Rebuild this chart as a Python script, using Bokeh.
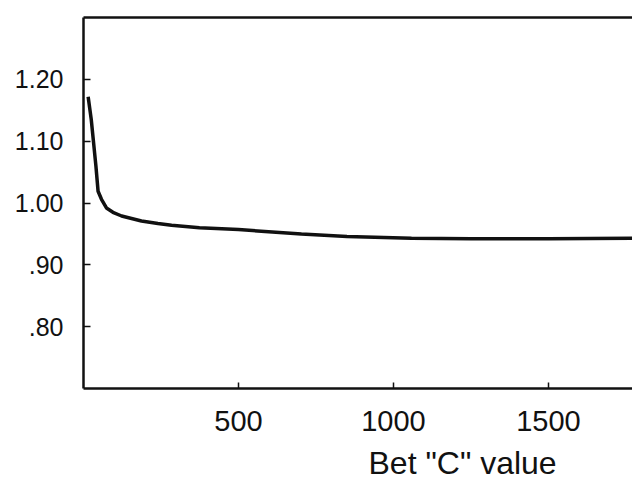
from bokeh.plotting import figure
from bokeh.models import LinearAxis, FixedTicker, Range1d, Title
from bokeh.embed import file_html
from bokeh.resources import INLINE

# Data
bet_c = [15, 25, 32, 40, 47, 58, 74, 95, 123, 155, 187, 240, 284, 374, 500, 703, 850, 1058, 1250, 1500, 1771]
ratio = [1.172, 1.135, 1.100, 1.060, 1.019, 1.006, 0.992, 0.985, 0.979, 0.975, 0.971, 0.967,
         0.964, 0.960, 0.957, 0.950, 0.946, 0.943, 0.942, 0.942, 0.943]

x_ticks = [500, 1000, 1500]
y_ticks = [0.80, 0.90, 1.00, 1.10, 1.20]
y_tick_labels = {0.8: ".80", 0.9: ".90", 1.0: "1.00", 1.1: "1.10", 1.2: "1.20"}
x_title = 'Bet "C" value'

INK = "#111111"
FONT = "Liberation Sans"

p = figure(width=632, height=489, output_backend="svg", toolbar_location=None,
           x_range=Range1d(0, 1771), y_range=Range1d(0.70, 1.30),
           x_axis_location=None, y_axis_location=None,
           min_border_left=83, min_border_right=0, min_border_top=17, min_border_bottom=101)
p.outline_line_color = None
p.xgrid.visible = False
p.ygrid.visible = False
p.background_fill_color = "white"
p.border_fill_color = "white"

yax = LinearAxis(ticker=FixedTicker(ticks=y_ticks), major_label_overrides=y_tick_labels)
yax.axis_line_width = 2.5
yax.axis_line_color = INK
yax.major_tick_in = 7
yax.major_tick_out = 0
yax.major_tick_line_width = 1.5
yax.major_tick_line_color = INK
yax.minor_tick_line_color = None
yax.major_label_standoff = 20
yax.major_label_text_font = FONT
yax.major_label_text_font_size = "25px"
yax.major_label_text_color = INK
p.add_layout(yax, "left")

xax = LinearAxis(ticker=FixedTicker(ticks=x_ticks))
xax.axis_line_width = 2.5
xax.axis_line_color = INK
xax.major_tick_in = 6
xax.major_tick_out = 0
xax.major_tick_line_width = 1.5
xax.major_tick_line_color = INK
xax.minor_tick_line_color = None
xax.major_label_standoff = 22
xax.major_label_text_font = FONT
xax.major_label_text_font_size = "29px"
xax.major_label_text_color = INK
p.add_layout(xax, "below")

top = LinearAxis(ticker=FixedTicker(ticks=[]))
top.axis_line_width = 2.5
top.axis_line_color = INK
top.major_tick_line_color = None
top.minor_tick_line_color = None
top.major_label_text_font_size = "0px"
p.add_layout(top, "above")

p.line(bet_c, ratio, line_width=3.5, line_color=INK)

title = Title(text=x_title, align="left", offset=285, text_font=FONT,
              text_font_size="32px", text_font_style="normal", text_color=INK,
              standoff=18)
p.add_layout(title, "below")

open("out.html", "w").write(file_html(p, INLINE))
